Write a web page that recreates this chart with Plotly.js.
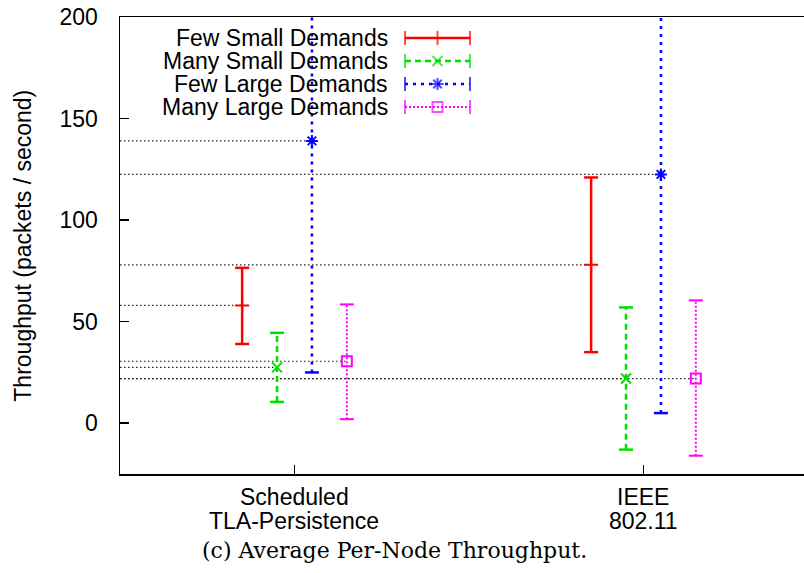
<!DOCTYPE html>
<html>
<head>
<meta charset="utf-8">
<script src="https://cdn.plot.ly/plotly-3.0.1.min.js"></script>
<style>html,body{margin:0;padding:0;background:#fff;}#chart{width:804px;height:573px;}</style>
</head>
<body>
<div id="chart"></div>
<script>
// ---- data ----
const categories = ['Scheduled<br>TLA-Persistence', 'IEEE<br>802.11'];
const categoryPos = [1, 2];
const seriesNames = ['Few Small Demands', 'Many Small Demands', 'Few Large Demands', 'Many Large Demands'];
const meanFewSmall  = [58, 78];
const lowFewSmall   = [39, 35];
const highFewSmall  = [76.5, 121];
const meanManySmall = [27.5, 22];
const lowManySmall  = [10.5, -13];
const highManySmall = [44.5, 57];
const meanFewLarge  = [139, 122.5];
const lowFewLarge   = [25, 5];
const highFewLarge  = [253, 240];
const meanManyLarge = [30.5, 22];
const lowManyLarge  = [2, -16];
const highManyLarge = [58.5, 60.5];
const yTicks = [0, 50, 100, 150, 200];

// ---- styles ----
const means = [meanFewSmall, meanManySmall, meanFewLarge, meanManyLarge];
const lows  = [lowFewSmall, lowManySmall, lowFewLarge, lowManyLarge];
const highs = [highFewSmall, highManySmall, highFewLarge, highManyLarge];
const colors = ['#ff0000', '#00e000', '#0000ff', '#ff00ff'];
const dashes = ['solid', '6px,4px', '3px,5px', '2px,2px'];
const widths = [2.5, 2.5, 2.5, 2];
const symbols = ['cross-thin', 'x-thin', 'asterisk', 'square-open'];
const symSizes = [10, 10, 10, 10];
const offsets = [-0.15, -0.05, 0.05, 0.15];
const xRange = [0.5, 2.46];
const sans = 'Liberation Sans, Arial, Helvetica, sans-serif';
const FS = 23;

const traces = [];
// dotted reference lines from left axis to each point
for (let s = 0; s < 4; s++) {
  const xs = [], ys = [];
  for (let i = 0; i < categoryPos.length; i++) {
    xs.push(xRange[0], categoryPos[i] + offsets[s], null);
    ys.push(means[s][i], means[s][i], null);
  }
  traces.push({x: xs, y: ys, mode: 'lines', showlegend: false, hoverinfo: 'skip',
    line: {color: '#222', width: 1.2, dash: '1.5px,2.5px'}});
}
// error bars
for (let s = 0; s < 4; s++) {
  const xs = [], ys = [], sy = [];
  for (let i = 0; i < categoryPos.length; i++) {
    const x = categoryPos[i] + offsets[s];
    xs.push(x, x, null);
    ys.push(lows[s][i], highs[s][i], null);
    sy.push('line-ew', 'line-ew', 'line-ew');
  }
  traces.push({x: xs, y: ys, mode: 'lines+markers', showlegend: false, hoverinfo: 'skip',
    line: {color: colors[s], width: widths[s], dash: dashes[s]},
    marker: {symbol: sy, size: 10, color: colors[s], line: {color: colors[s], width: widths[s]}}});
}
// centre points
for (let s = 0; s < 4; s++) {
  traces.push({x: categoryPos.map(p => p + offsets[s]), y: means[s], mode: 'markers', showlegend: false,
    name: seriesNames[s],
    marker: {symbol: symbols[s], size: symSizes[s], color: colors[s], line: {color: colors[s], width: 2}}});
}

// custom legend (text left, sample right) on a pixel overlay axis
const annotations = [];
const legTop = 38, legStep = 23, legTextRight = 390, legX0 = 405, legX1 = 470;
for (let s = 0; s < 4; s++) {
  const yy = legTop + s * legStep;
  const xm = (legX0 + legX1) / 2;
  traces.push({x: [legX0, xm, legX1], y: [yy, yy, yy], xaxis: 'x2', yaxis: 'y2', mode: 'lines+markers',
    showlegend: false, hoverinfo: 'skip',
    line: {color: colors[s], width: widths[s], dash: dashes[s]},
    marker: {symbol: ['line-ns', s === 0 ? 'line-ns' : symbols[s], 'line-ns'], size: [10, 10, 10],
      color: colors[s], line: {color: colors[s], width: 2}}});
  annotations.push({xref: 'x2', yref: 'y2', x: legTextRight, y: yy, text: seriesNames[s], showarrow: false,
    xanchor: 'right', yanchor: 'middle', font: {family: sans, size: FS, color: '#000'}});
}
// category labels (two lines, tight line spacing as in the reference)
const lineY = [-0.050, -0.102];
categories.forEach((c, i) => {
  c.split('<br>').forEach((part, k) => {
    annotations.push({xref: 'x', yref: 'paper', x: categoryPos[i], y: lineY[k], text: part, showarrow: false,
      xanchor: 'center', yanchor: 'middle', font: {family: sans, size: FS, color: '#000'}});
  });
});
// y-axis title
annotations.push({xref: 'paper', yref: 'paper', x: -0.143, y: 0.5, textangle: -90, showarrow: false,
  xanchor: 'center', yanchor: 'middle', text: 'Throughput (packets / second)',
  font: {family: sans, size: FS, color: '#000'}});
// caption
annotations.push({xref: 'paper', yref: 'paper', x: 0.402, y: -0.168, xanchor: 'center', yanchor: 'middle',
  text: '(c) Average Per-Node Throughput.', showarrow: false,
  font: {family: 'DejaVu Serif, Liberation Serif, serif', size: 22, color: '#000'}});

const layout = {
  width: 804, height: 573,
  margin: {l: 120, r: 0, t: 17, b: 99},
  paper_bgcolor: '#fff', plot_bgcolor: '#fff',
  showlegend: false,
  font: {family: sans, size: FS, color: '#000'},
  xaxis: {range: xRange, tickvals: categoryPos, ticktext: ['', ''], showgrid: false, zeroline: false,
    showline: true, mirror: true, linecolor: '#000', linewidth: 1.5, ticks: 'inside', ticklen: 9,
    tickcolor: '#000', tickwidth: 1.5},
  yaxis: {range: [-25, 200], tickvals: yTicks, showgrid: false, zeroline: false,
    showline: true, mirror: false, linecolor: '#000', linewidth: 1.5, ticks: 'inside', ticklen: 9,
    tickcolor: '#000', tickwidth: 1.5, tickfont: {size: FS}, ticklabelstandoff: 16},
  xaxis2: {overlaying: 'x', range: [120, 804], visible: false, fixedrange: true},
  yaxis2: {overlaying: 'y', range: [474, 17], visible: false, fixedrange: true},
  annotations: annotations
};

Plotly.newPlot('chart', traces, layout, {displayModeBar: false, staticPlot: true});
</script>
</body>
</html>
